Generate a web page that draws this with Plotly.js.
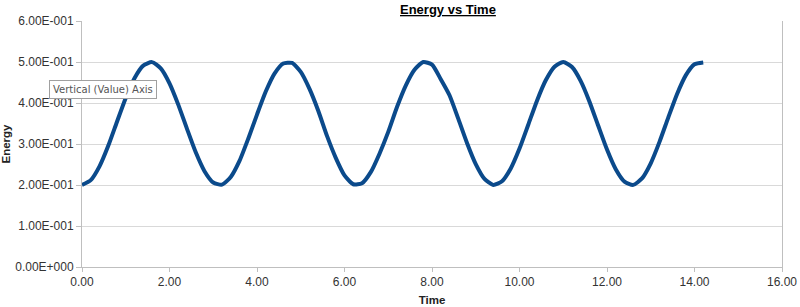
<!DOCTYPE html>
<html>
<head>
<meta charset="utf-8">
<script src="https://cdn.plot.ly/plotly-3.0.1.min.js"></script>
<style>
  html, body { margin: 0; padding: 0; background: #fff; }
  #chart { width: 800px; height: 307px; }
</style>
</head>
<body>
<div id="chart"></div>
<script>
// Time samples (s)
const time = [
  0.0, 0.2, 0.4, 0.6, 0.8, 1.0, 1.2, 1.4, 1.6, 1.8,
  2.0, 2.2, 2.4, 2.6, 2.8, 3.0, 3.2, 3.4, 3.6, 3.8,
  4.0, 4.2, 4.4, 4.6, 4.8, 5.0, 5.2, 5.4, 5.6, 5.8,
  6.0, 6.2, 6.4, 6.6, 6.8, 7.0, 7.2, 7.4, 7.6, 7.8,
  8.0, 8.2, 8.4, 8.6, 8.8, 9.0, 9.2, 9.4, 9.6, 9.8,
  10.0, 10.2, 10.4, 10.6, 10.8, 11.0, 11.2, 11.4, 11.6, 11.8,
  12.0, 12.2, 12.4, 12.6, 12.8, 13.0, 13.2, 13.4, 13.6, 13.8,
  14.0, 14.2
];

// Energy at each time sample
const energy = [
  0.2000, 0.2118, 0.2455, 0.2956, 0.3544, 0.4124, 0.4606, 0.4913, 0.4997, 0.4845,
  0.4480, 0.3961, 0.3369, 0.2797, 0.2337, 0.2060, 0.2009, 0.2196, 0.2588, 0.3130,
  0.3718, 0.4279, 0.4717, 0.4962, 0.4977, 0.4759, 0.4344, 0.3811, 0.3197, 0.2663,
  0.2234, 0.2018, 0.2042, 0.2313, 0.2764, 0.3295, 0.3901, 0.4424, 0.4810, 0.4999,
  0.4936, 0.4582, 0.4190, 0.3618, 0.3026, 0.2510, 0.2149, 0.2002, 0.2091, 0.2403,
  0.2888, 0.3469, 0.4057, 0.4554, 0.4886, 0.5000, 0.4877, 0.4535, 0.4033, 0.3444,
  0.2864, 0.2385, 0.2082, 0.2003, 0.2161, 0.2530, 0.3052, 0.3644, 0.4214, 0.4673,
  0.4944, 0.4988
];

// Axis ticks in scientific notation
const yTickVals = [0, 0.1, 0.2, 0.3, 0.4, 0.5, 0.6];
const yTickText = ['0.00E+000', '1.00E-001', '2.00E-001', '3.00E-001', '4.00E-001', '5.00E-001', '6.00E-001'];
const xTickVals = [0, 2, 4, 6, 8, 10, 12, 14, 16];

const FONT = 'Liberation Sans, Arial, sans-serif';
const GRID = '#d9d9d9';
const AXIS = '#bfbfbf';
const TICKCOL = '#333333';

const trace = {
  x: time,
  y: energy,
  type: 'scatter',
  mode: 'lines',
  line: { color: '#0b4a8b', width: 4, shape: 'spline', smoothing: 0.6 },
  hoverinfo: 'skip'
};

const layout = {
  width: 800,
  height: 307,
  margin: { l: 82, r: 18, t: 21, b: 40 },
  paper_bgcolor: '#ffffff',
  plot_bgcolor: '#ffffff',
  showlegend: false,
  font: { family: FONT, size: 12, color: TICKCOL },
  xaxis: {
    range: [0, 16],
    tickvals: xTickVals,
    tickformat: '.2f',
    showgrid: false,
    zeroline: false,
    showline: true,
    linecolor: AXIS,
    linewidth: 1,
    ticks: 'outside',
    ticklen: 4,
    tickcolor: AXIS,
    tickfont: { family: FONT, size: 12, color: TICKCOL },
    title: { text: '<b>Time</b>', font: { family: FONT, size: 11.5, color: '#222222' }, standoff: 7 }
  },
  yaxis: {
    range: [0, 0.6],
    tickvals: yTickVals,
    ticktext: yTickText,
    showgrid: true,
    gridcolor: GRID,
    gridwidth: 1,
    zeroline: false,
    showline: true,
    mirror: true,
    linecolor: AXIS,
    linewidth: 1,
    ticks: 'outside',
    ticklen: 5,
    tickcolor: AXIS,
    tickfont: { family: FONT, size: 12, color: TICKCOL },
    title: { text: '<b>Energy</b>', font: { family: FONT, size: 11.5, color: '#222222' }, standoff: 3 }
  },
  annotations: [
    {
      text: '<b><u>Energy vs Time</u></b>',
      xref: 'paper', yref: 'paper',
      x: 0.523, y: 1.0, xanchor: 'center', yanchor: 'bottom', yshift: 2,
      showarrow: false,
      font: { family: FONT, size: 13, color: '#000000' }
    },
    {
      // hover hint box over the vertical axis
      text: 'Vertical (Value) Axis',
      xref: 'paper', yref: 'paper',
      x: -0.047, y: 0.762, xanchor: 'left', yanchor: 'top',
      showarrow: false,
      bgcolor: '#ffffff',
      bordercolor: '#a0a0a0',
      borderwidth: 1,
      borderpad: 3,
      font: { family: 'DejaVu Sans, sans-serif', size: 10, color: '#555555' }
    }
  ]
};

Plotly.newPlot('chart', [trace], layout, { displayModeBar: false, staticPlot: true });
</script>
</body>
</html>
